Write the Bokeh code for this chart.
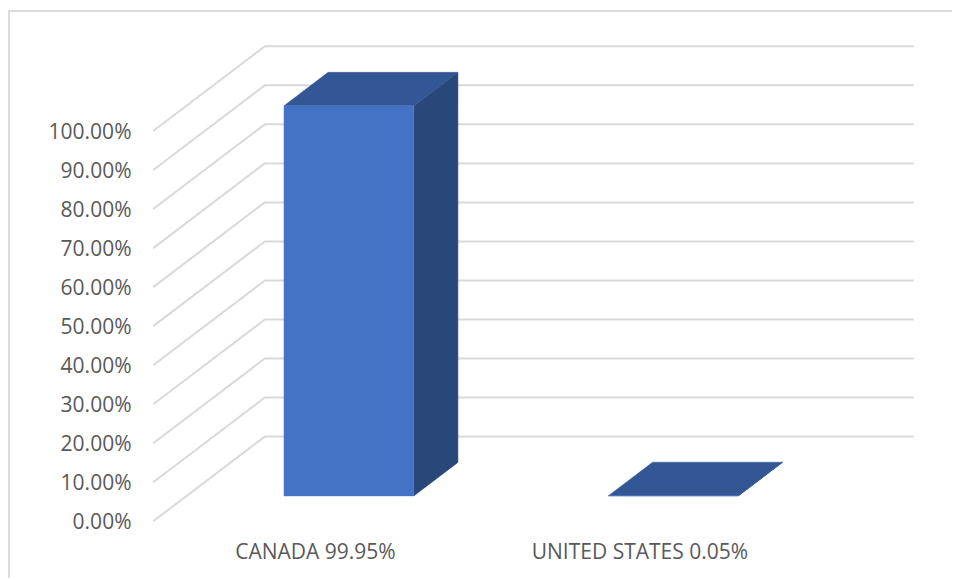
from bokeh.plotting import figure
from bokeh.models import FixedTicker, Range1d
from bokeh.embed import file_html
from bokeh.resources import INLINE

categories = ["CANADA 99.95%", "UNITED STATES 0.05%"]
values = [99.95, 0.05]
y_ticks = [0, 10, 20, 30, 40, 50, 60, 70, 80, 90, 100]
y_labels = ["0.00%", "10.00%", "20.00%", "30.00%", "40.00%", "50.00%",
            "60.00%", "70.00%", "80.00%", "90.00%", "100.00%"]

# layout (picture pixels) of the pseudo-3D projection
PX_PER_CAT = 324.5
PX_PER_PCT = 3.903
X_ZERO = 314.95
Y_ZERO = 520.8
DEPTH_X = 111.6 / PX_PER_CAT      # shift in category units for full floor depth
DEPTH_Y = 84.7 / PX_PER_PCT       # shift in percent units for full floor depth
BAR_HALF = 0.2
BAR_D0, BAR_D1 = 0.3, 0.695

ORIGIN_X, ORIGIN_Y = 10, 12       # canvas origin in picture pixels (margin + border)
WIDTH, HEIGHT = 944, 568
LEFT, BOTTOM = 139, 530           # frame left / bottom in picture pixels


def proj(cat, val, d):
    return cat + d * DEPTH_X, val + d * DEPTH_Y


p = figure(width=WIDTH, height=HEIGHT, output_backend="svg", toolbar_location=None,
           min_border_left=LEFT - ORIGIN_X, min_border_right=0, min_border_top=0,
           min_border_bottom=ORIGIN_Y + HEIGHT - BOTTOM,
           x_range=Range1d((LEFT - X_ZERO) / PX_PER_CAT, (ORIGIN_X + WIDTH - X_ZERO) / PX_PER_CAT),
           y_range=Range1d((Y_ZERO - BOTTOM) / PX_PER_PCT, (Y_ZERO - ORIGIN_Y) / PX_PER_PCT))
p.outline_line_color = None
p.grid.visible = False
p.background_fill_color = "white"
p.margin = (10, 0, 0, 8)
p.styles = {"border-left": "2px solid #dcdcdc", "border-top": "2px solid #dcdcdc"}

# gridlines: side wall then back wall
xs, ys = [], []
for t in y_ticks:
    a = proj(-0.5, t, 0)
    b = proj(-0.5, t, 1)
    c = proj(1.5, t, 1)
    xs.append([a[0], b[0], c[0]])
    ys.append([a[1], b[1], c[1]])
p.multi_line(xs, ys, line_color="#d9d9d9", line_width=2)

# bars
for i, v in enumerate(values):
    l, r = i - BAR_HALF, i + BAR_HALF
    fl = proj(l, 0, BAR_D0); fr = proj(r, 0, BAR_D0)
    tl = proj(l, v, BAR_D0); tr = proj(r, v, BAR_D0)
    bl = proj(l, v, BAR_D1); br = proj(r, v, BAR_D1)
    b0 = proj(r, 0, BAR_D1)
    p.patch([fr[0], b0[0], br[0], tr[0]], [fr[1], b0[1], br[1], tr[1]],
            fill_color="#2a4779", line_color="#2a4779", line_width=0.5)
    p.patch([tl[0], tr[0], br[0], bl[0]], [tl[1], tr[1], br[1], bl[1]],
            fill_color="#335694", line_color="#335694", line_width=0.5)
    p.patch([fl[0], fr[0], tr[0], tl[0]], [fl[1], fr[1], tr[1], tl[1]],
            fill_color="#4472c4", line_color="#4472c4", line_width=0.5)

for ax in (p.xaxis[0], p.yaxis[0]):
    ax.axis_line_color = None
    ax.major_tick_line_color = None
    ax.minor_tick_line_color = None
    ax.major_label_text_color = "#595959"
    ax.major_label_text_font = "Open Sans"
    ax.major_label_text_font_size = "21px"

p.yaxis[0].ticker = FixedTicker(ticks=y_ticks)
p.yaxis[0].major_label_overrides = dict(zip(y_ticks, y_labels))
p.yaxis[0].major_label_standoff = 2
p.xaxis[0].ticker = FixedTicker(ticks=list(range(len(categories))))
p.xaxis[0].major_label_overrides = dict(enumerate(categories))
p.xaxis[0].major_label_standoff = 0

open("out.html", "w").write(file_html(p, INLINE))
